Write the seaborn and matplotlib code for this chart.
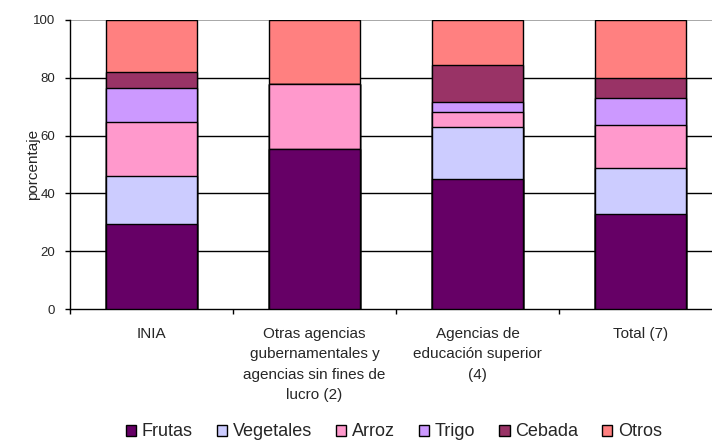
import matplotlib
matplotlib.use("Agg")
import matplotlib.pyplot as plt
import seaborn as sns
import numpy as np
import pandas as pd
from matplotlib.patches import Patch

sns.set_style("white")
plt.rcParams["font.family"] = ["Liberation Sans", "DejaVu Sans"]

categories = ["INIA",
              "Otras agencias\ngubernamentales y\nagencias sin fines de\nlucro (2)",
              "Agencias de\neducación superior\n(4)",
              "Total (7)"]
series = ["Frutas", "Vegetales", "Arroz", "Trigo", "Cebada", "Otros"]
frutas = [29.4, 55.4, 45.0, 32.7]
vegetales = [16.6, 0.0, 18.1, 16.2]
arroz = [18.6, 22.5, 4.9, 14.7]
trigo = [11.8, 0.0, 3.6, 9.3]
cebada = [5.6, 0.0, 12.7, 6.9]
otros = [18.0, 22.1, 15.7, 20.2]
colors = ["#660066", "#CCCCFF", "#FF99CC", "#CC99FF", "#993366", "#FF8080"]

values = pd.DataFrame(
    {"Frutas": frutas, "Vegetales": vegetales, "Arroz": arroz,
     "Trigo": trigo, "Cebada": cebada, "Otros": otros},
    index=[f"c{i}" for i in range(len(categories))])
cumulative = values.cumsum(axis=1)

fig = plt.figure(figsize=(7.12, 4.43), dpi=100)
ax = fig.add_axes([70 / 712, 134 / 443, 642 / 712, 289 / 443])

# stacked bars: draw cumulative totals from the top segment down
for name, col in reversed(list(zip(series, colors))):
    sns.barplot(x=list(cumulative.index), y=cumulative[name].values,
                color=col, saturation=1, width=0.56,
                edgecolor="black", linewidth=1.0, ax=ax, zorder=3)

ax.set_xlim(-0.5, 3.5 - 10 / 163)
ax.set_ylim(0, 100)
ax.set_yticks([0, 20, 40, 60, 80, 100])
ax.tick_params(axis="y", which="major", direction="out", length=3.6,
               width=1, color="black", labelsize=9.5, pad=7, left=True)
for y in [20, 40, 60, 80]:
    ax.axhline(y, color="black", linewidth=1.0, zorder=1)
ax.axhline(100, color="#999999", linewidth=1.2, zorder=1)

ax.set_xticks(range(len(categories)))
ax.set_xticklabels(categories, fontsize=11, linespacing=1.58,
                   va="top")
ax.tick_params(axis="x", which="major", length=0, pad=13)
ax.set_xticks([-0.5, 0.5, 1.5, 2.5], minor=True)
ax.tick_params(axis="x", which="minor", direction="out", length=3.6,
               width=1, color="black", bottom=True)

for side in ["top", "right"]:
    ax.spines[side].set_visible(False)
for side in ["left", "bottom"]:
    ax.spines[side].set_color("black")
    ax.spines[side].set_linewidth(1.0)

ax.set_xlabel("")
ax.set_ylabel("porcentaje", fontsize=11)
ax.yaxis.set_label_coords(-30 / 642, 0.5)

handles = [Patch(facecolor=c, edgecolor="black", linewidth=1.0, label=s)
           for s, c in zip(series, colors)]
fig.legend(handles=handles, loc="center", bbox_to_anchor=(394 / 712, 1 - 432 / 443),
           ncol=6, frameon=False, fontsize=13, handlelength=0.56,
           handleheight=0.56, handletextpad=0.3, columnspacing=1.35,
           borderpad=0.2)

fig.savefig("out.png", dpi=100)
